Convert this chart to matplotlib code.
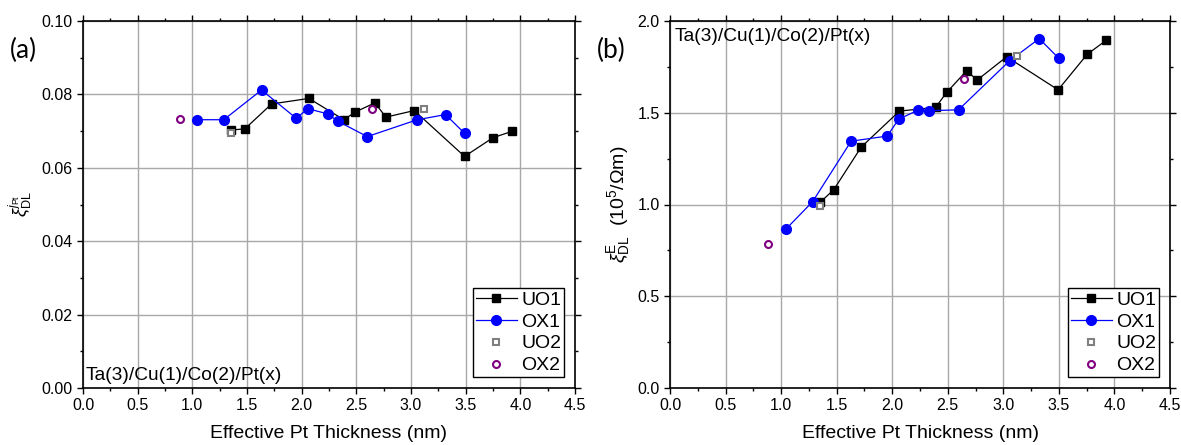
import matplotlib
matplotlib.use("Agg")
import matplotlib.pyplot as plt
from matplotlib.ticker import MultipleLocator

plt.rcParams['font.family'] = ['Liberation Sans', 'DejaVu Sans']
plt.rcParams['mathtext.fontset'] = 'custom'
plt.rcParams['mathtext.rm'] = 'Liberation Sans'
plt.rcParams['mathtext.it'] = 'Liberation Sans:italic'

# ---- Panel (a) data ----
a_uo1_x = [1.35, 1.48, 1.725, 2.066, 2.386, 2.49, 2.67, 2.77, 3.03, 3.49, 3.75, 3.92]
a_uo1_y = [0.0703, 0.0706, 0.0774, 0.0789, 0.0731, 0.0752, 0.0777, 0.0738, 0.0756, 0.0631, 0.0682, 0.0699]
a_ox1_x = [1.045, 1.288, 1.633, 1.95, 2.057, 2.237, 2.33, 2.60, 3.057, 3.316, 3.49]
a_ox1_y = [0.0731, 0.0731, 0.0812, 0.0735, 0.0761, 0.0747, 0.0727, 0.0685, 0.0731, 0.0745, 0.0694]
a_uo2_x = [1.35, 3.12]
a_uo2_y = [0.0696, 0.0760]
a_ox2_x = [0.886, 2.646]
a_ox2_y = [0.0734, 0.0760]

# ---- Panel (b) data ----
b_uo1_x = [1.353, 1.473, 1.721, 2.065, 2.39, 2.49, 2.67, 2.764, 3.03, 3.493, 3.754, 3.928]
b_uo1_y = [1.013, 1.080, 1.313, 1.509, 1.529, 1.611, 1.729, 1.678, 1.805, 1.625, 1.818, 1.896]
b_ox1_x = [1.045, 1.283, 1.630, 1.955, 2.058, 2.236, 2.33, 2.597, 3.058, 3.323, 3.497]
b_ox1_y = [0.867, 1.015, 1.345, 1.373, 1.465, 1.515, 1.511, 1.516, 1.784, 1.904, 1.798]
b_uo2_x = [1.353, 3.122]
b_uo2_y = [0.993, 1.809]
b_ox2_x = [0.881, 2.647]
b_ox2_y = [0.787, 1.685]

series_labels = ['UO1', 'OX1', 'UO2', 'OX2']
stack_text = 'Ta(3)/Cu(1)/Co(2)/Pt(x)'
xlabel = 'Effective Pt Thickness (nm)'

fig = plt.figure(figsize=(11.81, 4.45), dpi=100)
axa = fig.add_axes([83/1181, 57/445, 492/1181, 367/445])
axb = fig.add_axes([670/1181, 57/445, 500/1181, 367/445])

def style(ax, ymax, ymaj, ymin):
    ax.set_xlim(0, 4.5)
    ax.set_ylim(0, ymax)
    ax.xaxis.set_major_locator(MultipleLocator(0.5))
    ax.xaxis.set_minor_locator(MultipleLocator(0.25))
    ax.yaxis.set_major_locator(MultipleLocator(ymaj))
    ax.yaxis.set_minor_locator(MultipleLocator(ymin))
    ax.tick_params(which='both', direction='out', top=True, right=True,
                   labelsize=11.5, width=1.0, color='black')
    ax.tick_params(which='major', length=4)
    ax.tick_params(which='minor', length=2.5)
    ax.grid(True, which='major', color='#a8a8a8', linewidth=1.0)
    ax.set_axisbelow(True)
    for s in ax.spines.values():
        s.set_linewidth(1.2)
    ax.set_xlabel(xlabel, fontsize=14, labelpad=8)

def plot_series(ax, d):
    (ux, uy), (ox, oy), (u2x, u2y), (o2x, o2y) = d
    ax.plot(ux, uy, '-s', color='black', lw=0.9, ms=6.2, label=series_labels[0], zorder=3)
    ax.plot(ox, oy, '-o', color='#0000ff', lw=0.9, ms=7, label=series_labels[1], zorder=4)
    ax.plot(u2x, u2y, 's', mfc='white', mec='#808080', mew=1.5, ms=4.8, label=series_labels[2], zorder=5)
    ax.plot(o2x, o2y, 'o', mfc='white', mec='#800080', mew=1.5, ms=5, label=series_labels[3], zorder=5)
    leg = ax.legend(loc='lower right', fontsize=14, frameon=True, fancybox=False,
                    edgecolor='black', framealpha=1, borderpad=0.15, labelspacing=0.22,
                    handlelength=2.1, handletextpad=0.25, borderaxespad=0.55)
    leg.get_frame().set_linewidth(1.0)

style(axa, 0.10, 0.02, 0.01)
axa.yaxis.set_major_formatter(matplotlib.ticker.FormatStrFormatter('%.2f'))
plot_series(axa, [(a_uo1_x, a_uo1_y), (a_ox1_x, a_ox1_y), (a_uo2_x, a_uo2_y), (a_ox2_x, a_ox2_y)])
axa.set_ylabel(r'$\xi^{j_{\rm Pt}}_{\rm DL}$', fontsize=13, labelpad=5)
axa.text(0.006, 0.012, stack_text, transform=axa.transAxes, fontsize=13.8, ha='left', va='bottom')

style(axb, 2.0, 0.5, 0.25)
axb.yaxis.set_major_formatter(matplotlib.ticker.FormatStrFormatter('%.1f'))
plot_series(axb, [(b_uo1_x, b_uo1_y), (b_ox1_x, b_ox1_y), (b_uo2_x, b_uo2_y), (b_ox2_x, b_ox2_y)])
axb.set_ylabel(r'$\xi^{\rm E}_{\rm DL}$  (10$^5$/Ωm)', fontsize=14, labelpad=4)
axb.text(0.01, 0.98, stack_text, transform=axb.transAxes, fontsize=13.8, ha='left', va='top')

fig.text(10/1181, 1 - 50/445, '(a)', fontsize=19, family=['Lato', 'DejaVu Sans'], va='center', ha='left')
fig.text(597/1181, 1 - 50/445, '(b)', fontsize=19, family=['Lato', 'DejaVu Sans'], va='center', ha='left')

fig.savefig('out.png', dpi=100)
